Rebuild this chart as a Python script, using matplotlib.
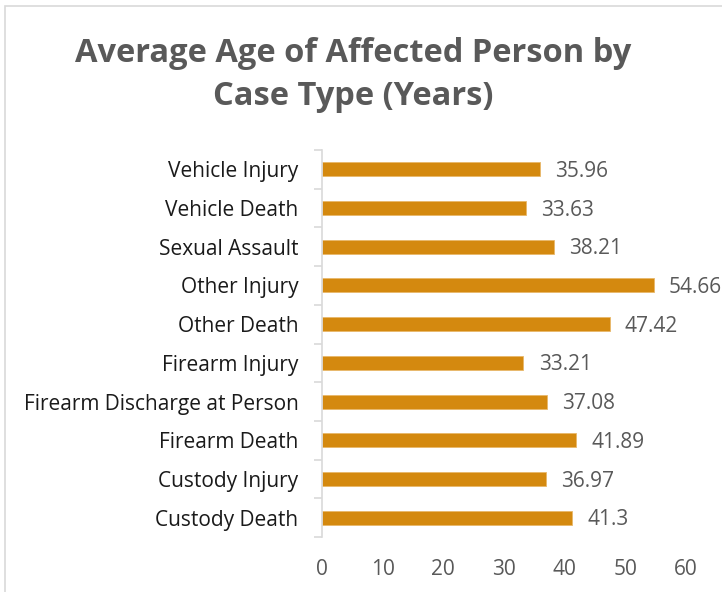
import matplotlib.pyplot as plt
from matplotlib.patches import Rectangle

categories = ['Vehicle Injury', 'Vehicle Death', 'Sexual Assault', 'Other Injury',
              'Other Death', 'Firearm Injury', 'Firearm Discharge at Person',
              'Firearm Death', 'Custody Injury', 'Custody Death']
ages = [35.96, 33.63, 38.21, 54.66, 47.42, 33.21, 37.08, 41.89, 36.97, 41.3]
value_labels = ['35.96', '33.63', '38.21', '54.66', '47.42', '33.21', '37.08',
                '41.89', '36.97', '41.3']
x_ticks = [0, 10, 20, 30, 40, 50, 60]

plt.rcParams['font.family'] = ['Open Sans', 'DejaVu Sans']

fig = plt.figure(figsize=(7.22, 5.92), dpi=100)
ax = fig.add_axes([0.446, 0.0929, 0.504, 0.6537])

pos = list(range(len(categories)))[::-1]
ax.barh(pos, ages, height=0.36, color='#D4890F', edgecolor='#E8B86A', linewidth=0.6)

for p, v, lab in zip(pos, ages, value_labels):
    ax.annotate(lab, (v, p), xytext=(11, -1.5), textcoords='offset points',
                ha='left', va='center', fontsize=15, color='#595959')

ax.set_xlim(0, 60)
ax.set_ylim(-0.5, 9.5)
ax.set_xticks(x_ticks)
ax.set_xticklabels([str(t) for t in x_ticks], fontsize=15, color='#595959')
ax.set_yticks([i + 0.5 for i in range(-1, 10)], minor=False)
ax.set_yticklabels([])
ax.set_yticks(pos, minor=True)
ax.set_yticklabels(categories, minor=True, fontsize=15, color='#1a1a1a')
ax.tick_params(axis='y', which='major', length=6, width=1.2, color='#d9d9d9')
ax.tick_params(axis='y', which='minor', length=0, pad=17)
ax.tick_params(axis='x', length=0, pad=16)

for s in ['top', 'right', 'bottom']:
    ax.spines[s].set_visible(False)
ax.spines['left'].set_color('#d9d9d9')
ax.spines['left'].set_linewidth(1.2)

fig.text(0.489, 0.873, 'Average Age of Affected Person by\nCase Type (Years)',
         ha='center', va='center', fontsize=23.5, fontweight='bold',
         color='#595959', linespacing=1.42)

fig.patches.append(Rectangle((5 / 722, -0.01), 1.1, 1 - 6 / 592 + 0.01,
                             transform=fig.transFigure, fill=False,
                             edgecolor='#d9d9d9', linewidth=1.2))

fig.savefig('out.png', dpi=100)
